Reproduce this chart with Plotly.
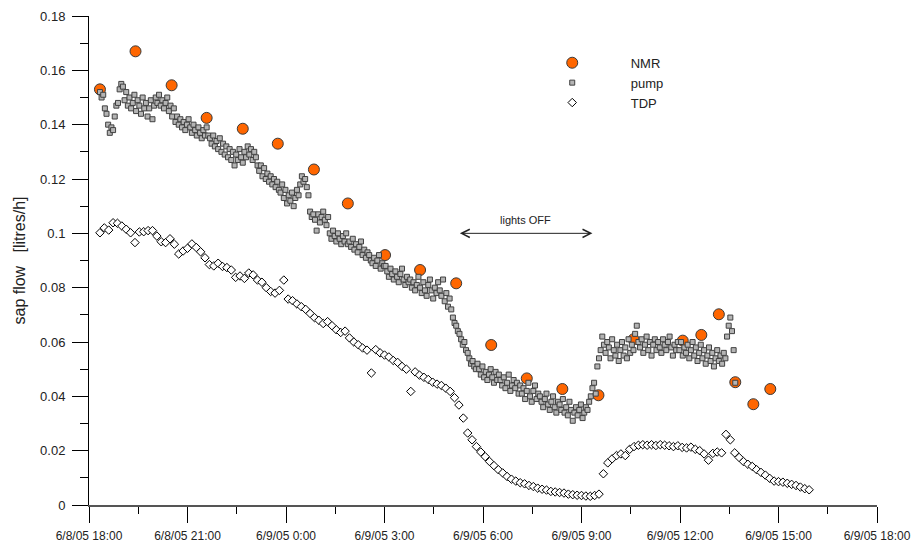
import pandas as pd
import plotly.graph_objects as go

# ---------------- data ----------------
t0 = pd.Timestamp("2005-06-08 18:00")

# NMR measurements (minutes after 6/8/05 18:00, litres/h)
nmr_minutes = [20, 85, 151, 215, 281, 345, 411, 473, 541, 605, 671,
               735, 800, 865, 931, 995, 1085, 1119, 1151, 1181, 1214, 1245]
nmr_values = [0.153, 0.167, 0.1545, 0.1425, 0.1385, 0.133, 0.1235, 0.111, 0.092, 0.0865, 0.0816,
              0.0589, 0.0466, 0.0427, 0.0404, 0.061, 0.0605, 0.0626, 0.0702, 0.0452, 0.0371, 0.0427]

# pump: regular 3-minute samples starting 18:20
pump_start = "2005-06-08 18:20"
pump_step = "3min"
pump_values = [
    0.152, 0.150, 0.151, 0.146, 0.144, 0.140, 0.137, 0.139, 0.138, 0.143, 0.147, 0.148, 0.153, 0.155,
    0.154, 0.149, 0.152, 0.147, 0.150, 0.146, 0.148, 0.151, 0.145, 0.149, 0.147,
    0.144, 0.150, 0.146, 0.148, 0.143, 0.146, 0.149, 0.142, 0.147, 0.150, 0.148,
    0.151, 0.147, 0.149, 0.146, 0.148, 0.150, 0.145, 0.147, 0.143, 0.146,
    0.141, 0.143, 0.140, 0.142, 0.139, 0.141, 0.138, 0.140, 0.142, 0.139, 0.137,
    0.140, 0.138, 0.136, 0.139, 0.137, 0.135, 0.138, 0.136, 0.139, 0.136,
    0.135, 0.133, 0.136, 0.132, 0.134, 0.131, 0.135, 0.130, 0.133, 0.129, 0.132,
    0.128, 0.131, 0.127, 0.130, 0.125, 0.129, 0.127, 0.131, 0.128, 0.126,
    0.130, 0.128, 0.132, 0.129, 0.131, 0.127, 0.130, 0.128, 0.125,
    0.123, 0.125, 0.121, 0.124, 0.120, 0.122, 0.119, 0.121, 0.118, 0.120, 0.117, 0.119, 0.116,
    0.115, 0.118, 0.113, 0.116, 0.111, 0.114, 0.112, 0.115, 0.110, 0.113, 0.116, 0.114,
    0.118, 0.121, 0.119, 0.120, 0.117, 0.114,
    0.108, 0.106, 0.107, 0.105, 0.101, 0.107, 0.104, 0.106, 0.108, 0.105, 0.103, 0.106,
    0.100, 0.098, 0.101, 0.099, 0.097, 0.100, 0.098, 0.096, 0.099, 0.097, 0.100, 0.096,
    0.097, 0.095, 0.098, 0.094, 0.096, 0.093, 0.095, 0.097, 0.092, 0.094, 0.091, 0.093,
    0.092, 0.090, 0.089, 0.091, 0.088, 0.090, 0.092, 0.087, 0.089, 0.088,
    0.088, 0.086, 0.084, 0.087, 0.085, 0.083, 0.086, 0.084, 0.082, 0.085, 0.087, 0.083, 0.081, 0.084, 0.082,
    0.083, 0.080, 0.082, 0.079, 0.081, 0.084, 0.080, 0.078, 0.082, 0.079, 0.077, 0.081, 0.083, 0.079,
    0.076, 0.080, 0.078, 0.082,
    0.079, 0.077, 0.083, 0.075, 0.078, 0.073, 0.076, 0.072,
    0.069, 0.067, 0.066, 0.064,
    0.063, 0.061, 0.059, 0.060, 0.057, 0.056,
    0.054, 0.052, 0.053, 0.051, 0.050, 0.052,
    0.050, 0.048, 0.051, 0.047, 0.049, 0.046, 0.048, 0.050, 0.047, 0.045, 0.049, 0.046, 0.048,
    0.046, 0.044, 0.047, 0.043, 0.045, 0.048, 0.042, 0.044, 0.046, 0.043, 0.045, 0.041,
    0.044, 0.041, 0.043, 0.039, 0.042, 0.045, 0.040, 0.038, 0.042, 0.044, 0.039, 0.041,
    0.040, 0.038, 0.036, 0.039, 0.041, 0.037, 0.035, 0.038, 0.040, 0.036, 0.034, 0.038,
    0.037, 0.035, 0.039, 0.034, 0.036, 0.033, 0.038, 0.035, 0.031, 0.034, 0.036, 0.033,
    0.035, 0.037, 0.032, 0.034, 0.036, 0.035,
    0.038, 0.040, 0.043, 0.045, 0.041, 0.051, 0.054, 0.057,
    0.062, 0.059, 0.056, 0.060, 0.058, 0.054, 0.061, 0.057, 0.055, 0.059, 0.053, 0.057,
    0.060, 0.055, 0.058, 0.054, 0.061, 0.056, 0.059, 0.057, 0.063, 0.066, 0.060,
    0.058, 0.061, 0.056, 0.059, 0.062, 0.057, 0.060, 0.055, 0.059, 0.061, 0.057, 0.060,
    0.058, 0.056, 0.061, 0.059, 0.057, 0.060, 0.062, 0.058, 0.055, 0.059, 0.057, 0.060,
    0.057, 0.060, 0.055, 0.058, 0.056, 0.059, 0.054, 0.057, 0.060, 0.055, 0.058, 0.053,
    0.056, 0.059, 0.054, 0.057, 0.052, 0.055, 0.058, 0.053, 0.056, 0.051, 0.054, 0.057, 0.053,
    0.055, 0.052, 0.056, 0.054, 0.062, 0.066, 0.069, 0.064, 0.057, 0.045,
]

# TDP: regular 8-minute samples starting 18:20
tdp_start = "2005-06-08 18:20"
tdp_step = "8min"
tdp_values = [
    0.1002, 0.1020, 0.1012, 0.1039, 0.1037, 0.1027, 0.1015, 0.1002, 0.0966, 0.1005,
    0.1006, 0.1010, 0.1010, 0.0990, 0.0969, 0.0966, 0.0980, 0.0960, 0.0924, 0.0935,
    0.0945, 0.0961, 0.0948, 0.0932, 0.0910, 0.0885, 0.0880, 0.0890, 0.0878, 0.0874,
    0.0865, 0.0838, 0.0843, 0.0834, 0.0854, 0.0847, 0.0828, 0.0820, 0.0800, 0.0786,
    0.0780, 0.0790, 0.0828, 0.0758, 0.0752, 0.0740, 0.0730, 0.0720, 0.0705, 0.0690,
    0.0680, 0.0668, 0.0675, 0.0660, 0.0645, 0.0635, 0.0640, 0.0615, 0.0600, 0.0590,
    0.0578, 0.0570, 0.0486, 0.0572, 0.0560, 0.0552, 0.0545, 0.0532, 0.0525, 0.0510,
    0.0500, 0.0418, 0.0490, 0.0478, 0.0470, 0.0462, 0.0452, 0.0445, 0.0440, 0.0430,
    0.0418, 0.0395, 0.0368, 0.0320, 0.0265, 0.0240, 0.0215, 0.0195, 0.0178, 0.0160,
    0.0145, 0.0130, 0.0118, 0.0105, 0.0095, 0.0088, 0.0082, 0.0078, 0.0072, 0.0068,
    0.0062, 0.0058, 0.0055, 0.0050, 0.0048, 0.0046, 0.0044, 0.0040, 0.0038, 0.0036,
    0.0035, 0.0033, 0.0032, 0.0035, 0.0040, 0.0115, 0.0155, 0.0170, 0.0182, 0.0188,
    0.0182, 0.0205, 0.0215, 0.0220, 0.0222, 0.0220, 0.0222, 0.0219, 0.0222, 0.0220,
    0.0218, 0.0215, 0.0218, 0.0212, 0.0210, 0.0213, 0.0205, 0.0200, 0.0188, 0.0165,
    0.0190, 0.0195, 0.0192, 0.0260, 0.0240, 0.0192, 0.0175, 0.0160, 0.0150, 0.0142,
    0.0130, 0.0120, 0.0110, 0.0098, 0.0088, 0.0086, 0.0084, 0.0080, 0.0076, 0.0072,
    0.0066, 0.0060, 0.0056,
]

# axis ticks
x_tick_times = ["2005-06-08 18:00", "2005-06-08 21:00", "2005-06-09 00:00",
                "2005-06-09 03:00", "2005-06-09 06:00", "2005-06-09 09:00",
                "2005-06-09 12:00", "2005-06-09 15:00", "2005-06-09 18:00"]
x_tick_labels = ["6/8/05 18:00", "6/8/05 21:00", "6/9/05 0:00", "6/9/05 3:00",
                 "6/9/05 6:00", "6/9/05 9:00", "6/9/05 12:00", "6/9/05 15:00",
                 "6/9/05 18:00"]
y_tick_vals = [0, 0.02, 0.04, 0.06, 0.08, 0.1, 0.12, 0.14, 0.16, 0.18]
y_tick_labels = ["0", "0.02", "0.04", "0.06", "0.08", "0.1", "0.12", "0.14", "0.16", "0.18"]

# lights OFF period
lights_off_start = "2005-06-09 05:15"
lights_off_end = "2005-06-09 09:20"
lights_off_level = 0.1

# ---------------- figure ----------------
nmr_t = t0 + pd.to_timedelta(nmr_minutes, unit="min")
pump_t = pd.date_range(pump_start, periods=len(pump_values), freq=pump_step)
tdp_t = pd.date_range(tdp_start, periods=len(tdp_values), freq=tdp_step)

FONT = "Liberation Sans, Arial, Helvetica, sans-serif"

fig = go.Figure()
fig.add_trace(go.Scatter(
    x=nmr_t, y=nmr_values, mode="markers", name="NMR",
    marker=dict(symbol="circle", size=11, color="#FF6600",
                line=dict(color="#3a3a3a", width=1))))
fig.add_trace(go.Scatter(
    x=pump_t, y=pump_values, mode="markers", name="pump",
    marker=dict(symbol="square", size=5, color="#b4b4b4",
                line=dict(color="#404040", width=1))))
fig.add_trace(go.Scatter(
    x=tdp_t, y=tdp_values, mode="markers", name="TDP",
    marker=dict(symbol="diamond", size=6.5, color="white",
                line=dict(color="black", width=1))))

fig.add_annotation(
    x=lights_off_end, y=lights_off_level, ax=lights_off_start, ay=lights_off_level,
    xref="x", yref="y", axref="x", ayref="y", text="", showarrow=True,
    arrowhead=5, startarrowhead=5, arrowside="end+start", arrowsize=1.6,
    arrowwidth=1, arrowcolor="#222")
fig.add_annotation(
    x="2005-06-09 07:17", y=lights_off_level, yshift=13, xref="x", yref="y",
    text="lights OFF", showarrow=False,
    font=dict(family=FONT, size=11, color="#222"))

fig.update_layout(
    width=912, height=546,
    margin=dict(l=89, r=35, t=16, b=41),
    paper_bgcolor="white", plot_bgcolor="white",
    font=dict(family=FONT, size=12, color="#222"),
    showlegend=True,
    legend=dict(x=0.539, y=0.935, xanchor="left", yanchor="top",
                bgcolor="rgba(0,0,0,0)", itemwidth=107,
                font=dict(family=FONT, size=13, color="#222"),
                tracegroupgap=0),
)
fig.update_xaxes(
    type="date", range=[x_tick_times[0], x_tick_times[-1]],
    tickmode="array", tickvals=x_tick_times, ticktext=x_tick_labels,
    ticks="outside", ticklen=16, tickwidth=1, tickcolor="black",
    minor=dict(ticks="outside", ticklen=7, tickwidth=1, tickcolor="black",
               dtick=5400000, tick0=x_tick_times[0]),
    showline=True, linecolor="#555", linewidth=1.5,
    showgrid=False, zeroline=False, automargin=False,
    ticklabelstandoff=3,
    tickfont=dict(family=FONT, size=12, color="#222"))
fig.update_yaxes(
    range=[0, 0.18], tickmode="array", tickvals=y_tick_vals, ticktext=y_tick_labels,
    ticks="outside", ticklen=16, tickwidth=1, tickcolor="black",
    minor=dict(ticks="outside", ticklen=8, tickwidth=1, tickcolor="black",
               dtick=0.01, tick0=0),
    showline=True, linecolor="black", linewidth=1,
    showgrid=False, zeroline=False, automargin=False,
    ticklabelstandoff=4,
    tickfont=dict(family=FONT, size=13, color="#222"),
    title=dict(text="sap flow\u00a0\u00a0\u00a0[litres/h]", standoff=10,
               font=dict(family=FONT, size=16, color="#222")))

fig.write_html("out.html")
